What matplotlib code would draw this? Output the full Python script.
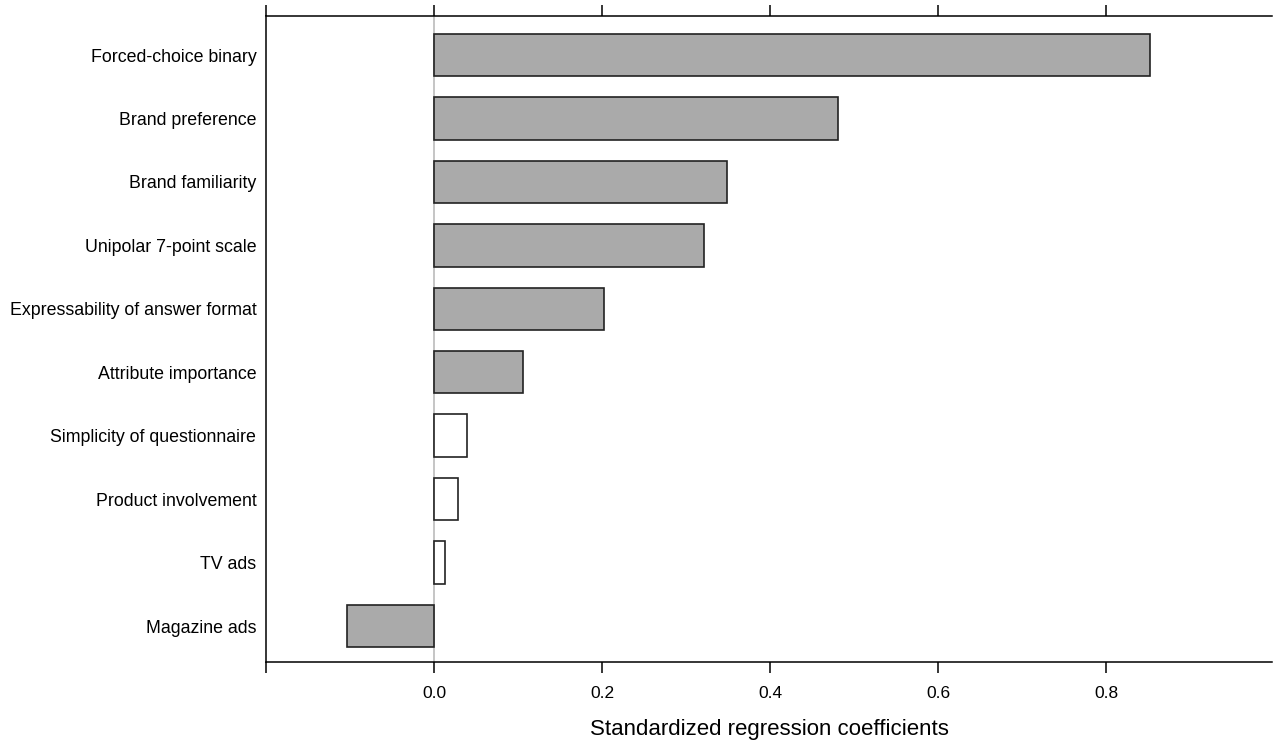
import matplotlib
matplotlib.use("Agg")
import matplotlib.pyplot as plt

categories = ["Forced-choice binary", "Brand preference", "Brand familiarity",
              "Unipolar 7-point scale", "Expressability of answer format",
              "Attribute importance", "Simplicity of questionnaire",
              "Product involvement", "TV ads", "Magazine ads"]
values = [0.852, 0.481, 0.349, 0.321, 0.202, 0.106, 0.0395, 0.028, 0.0135, -0.104]
significant = [True, True, True, True, True, True, False, False, False, True]
xticks = [-0.2, 0.0, 0.2, 0.4, 0.6, 0.8]
xticklabels = ["", "0.0", "0.2", "0.4", "0.6", "0.8"]

plt.rcParams['font.family'] = ['Liberation Sans', 'DejaVu Sans']

fig = plt.figure(figsize=(12.74, 7.44), dpi=100)
ax = fig.add_axes([266/1274, 1-662/744, 1006/1274, 646/744])

n = len(categories)
ypos = list(range(n, 0, -1))
colors = ["#aaaaaa" if s else "white" for s in significant]
ax.axvline(0, color="#bbbbbb", lw=1.2, zorder=0)
ax.barh(ypos, values, height=0.67, color=colors, edgecolor="#222222", linewidth=1.2, zorder=2)

ax.set_xlim(-0.2, 0.9976)
ax.set_ylim(0.433, 10.615)
ax.set_yticks(ypos)
ax.set_yticklabels(categories, fontsize=12.8)
ax.tick_params(axis='y', length=0, pad=7)
ax.set_xticks(xticks)
ax.set_xticklabels(xticklabels, fontsize=12.5)
ax.tick_params(axis='x', which='both', top=True, bottom=True, direction='out',
               length=8, width=1.1, pad=9, labeltop=False)
for s in ["right"]:
    ax.spines[s].set_visible(False)
for s in ["left", "top", "bottom"]:
    ax.spines[s].set_linewidth(1.1)
ax.set_xlabel("Standardized regression coefficients", fontsize=16, labelpad=13)

fig.savefig("out.png", dpi=100)
